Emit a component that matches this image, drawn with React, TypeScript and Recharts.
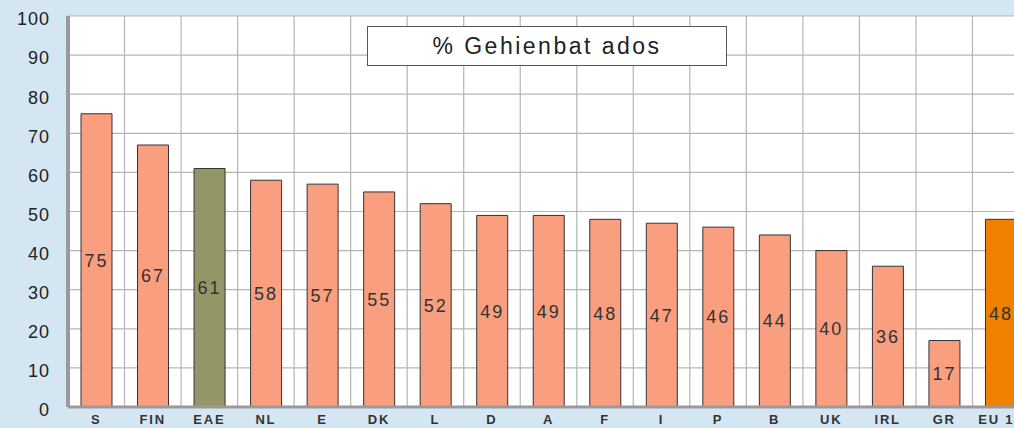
import React from 'react';
import {
  BarChart,
  Bar,
  XAxis,
  YAxis,
  CartesianGrid,
  Cell,
  LabelList
} from 'recharts';

const countries = ['S', 'FIN', 'EAE', 'NL', 'E', 'DK', 'L', 'D', 'A', 'F', 'I', 'P', 'B', 'UK', 'IRL', 'GR', 'EU 15'];
const values = [75, 67, 61, 58, 57, 55, 52, 49, 49, 48, 47, 46, 44, 40, 36, 17, 48];
const yTicks = [0, 10, 20, 30, 40, 50, 60, 70, 80, 90, 100];
const title = '% Gehienbat ados';

const data = countries.map((c, i) => ({ name: c, value: values[i] }));

// highlighted bars
const barColor = (name: string) => {
  if (name === 'EAE') return '#949668';
  if (name === 'EU 15') return '#f08000';
  return '#f99e7f';
};

const App: React.FC = () => {
  return (
    <div
      style={{
        position: 'fixed',
        left: 0,
        top: 0,
        width: 1014,
        height: 428,
        overflow: 'hidden',
        background: '#d5e6f3',
        fontFamily: 'Arial, "Liberation Sans", sans-serif'
      }}
    >
      <BarChart
        width={1029}
        height={428}
        data={data}
        margin={{ top: 16, right: 0, bottom: 0, left: 0 }}
        barCategoryGap="23%"
      >
        <CartesianGrid
          stroke="#b5b5b5"
          strokeWidth={1.2}
          fill="#ffffff"
          fillOpacity={1}
          verticalCoordinatesGenerator={({ offset }: any) =>
            countries.map((_, i) => offset.left + (i * offset.width) / countries.length)
          }
        />
        <XAxis
          dataKey="name"
          height={21}
          interval={0}
          tickLine={false}
          tickSize={0}
          tickMargin={8}
          axisLine={{ stroke: '#9a9a9a', strokeWidth: 3 }}
          tick={{ fontSize: 13, fontWeight: 'bold', fill: '#333', letterSpacing: 1.8 }}
        />
        <YAxis
          width={68}
          domain={[0, 100]}
          ticks={yTicks}
          interval={0}
          tickLine={false}
          tickSize={0}
          tickMargin={18}
          axisLine={{ stroke: '#9a9a9a', strokeWidth: 4 }}
          tick={{ fontSize: 18, fill: '#222', letterSpacing: 1, dy: 3 }}
        />
        <Bar dataKey="value" stroke="#333" strokeWidth={1} isAnimationActive={false}>
          {data.map((d) => (
            <Cell key={d.name} fill={barColor(d.name)} />
          ))}
          <LabelList
            dataKey="value"
            position="center"
            fill="#333"
            fontSize={18}
            style={{ letterSpacing: 2 }}
          />
        </Bar>
      </BarChart>
      <div
        style={{
          position: 'absolute',
          left: 367,
          top: 26,
          width: 358,
          height: 38,
          background: '#fff',
          border: '1px solid #555',
          display: 'flex',
          alignItems: 'center',
          justifyContent: 'center',
          fontSize: 23,
          letterSpacing: 2.5,
          color: '#222'
        }}
      >
        {title}
      </div>
    </div>
  );
};

export default App;
